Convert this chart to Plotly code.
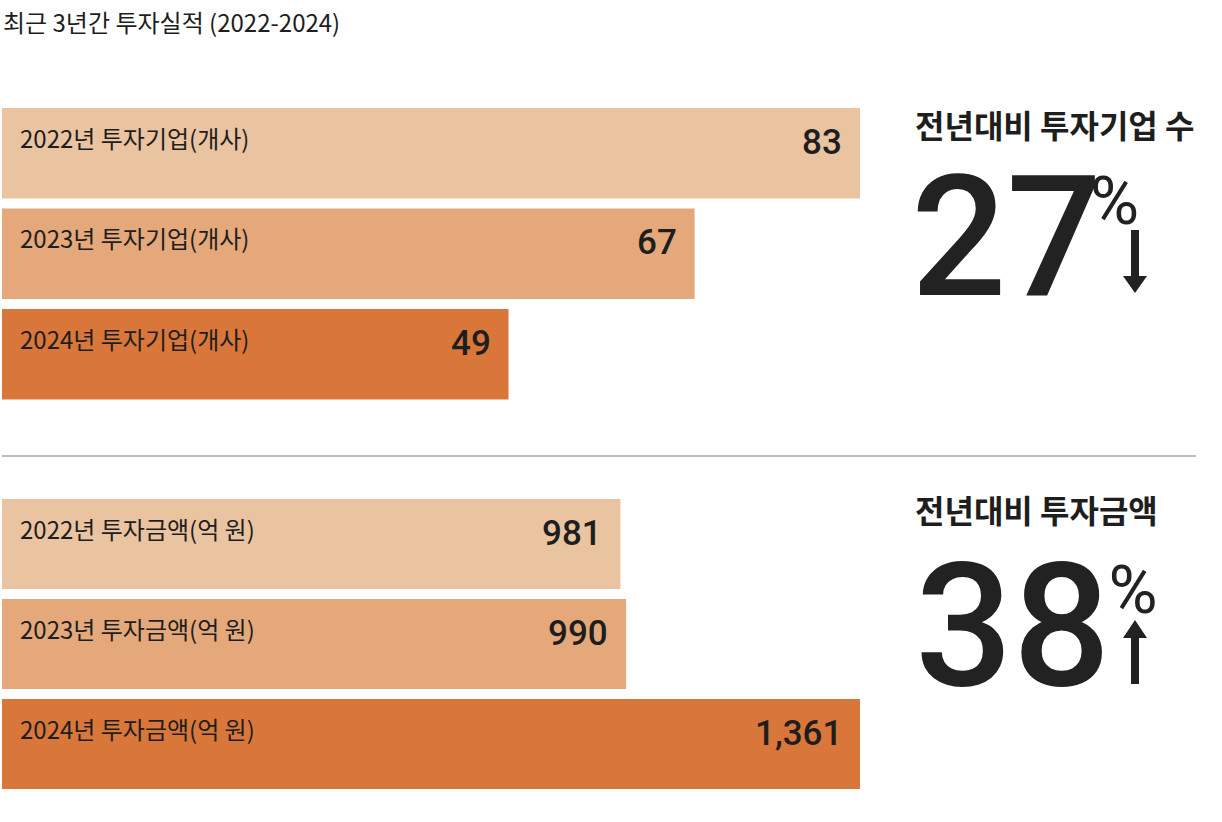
import plotly.graph_objects as go

# ---------------- data ----------------
years = ["2022년", "2023년", "2024년"]
company_counts = [83, 67, 49]
invest_amounts = [981, 990, 1361]
company_labels = ["2022년 투자기업(개사)", "2023년 투자기업(개사)", "2024년 투자기업(개사)"]
amount_labels = ["2022년 투자금액(억 원)", "2023년 투자금액(억 원)", "2024년 투자금액(억 원)"]
title_text = "최근 3년간 투자실적 (2022-2024)"
kpi_titles = ["전년대비 투자기업 수", "전년대비 투자금액"]
kpi_values = ["27", "38"]
kpi_direction = ["down", "up"]

# ---------------- style ----------------
bar_colors = ["#EAC3A0", "#E4A87A", "#D9763A"]
TEXT = "#1E1E1E"
KR = "Noto Sans CJK KR"
NUM = "Roboto"
W, H = 1222, 822


def px(x):
    return x / W


def py(y):
    return 1 - y / H


fig = go.Figure()

fig.add_trace(go.Bar(
    x=company_counts, y=years, orientation="h",
    marker=dict(color=bar_colors, line=dict(width=0)),
    xaxis="x", yaxis="y", hoverinfo="skip", showlegend=False,
))
fig.add_trace(go.Bar(
    x=invest_amounts, y=years, orientation="h",
    marker=dict(color=bar_colors, line=dict(width=0)),
    xaxis="x2", yaxis="y2", hoverinfo="skip", showlegend=False,
))

annotations = []
# title
annotations.append(dict(
    text=title_text, xref="paper", yref="paper", x=px(1), y=py(21),
    xanchor="left", yanchor="middle", showarrow=False,
    font=dict(family=KR, size=24, color=TEXT),
))

for xa, ya, vals, labels in (("x", "y", company_counts, company_labels),
                             ("x2", "y2", invest_amounts, amount_labels)):
    for yr, v, lab in zip(years, vals, labels):
        annotations.append(dict(
            text=lab, xref=xa, yref=ya, x=0, y=yr, xanchor="left", yanchor="middle",
            xshift=16, yshift=16, showarrow=False,
            font=dict(family=KR, size=24, color=TEXT),
        ))
        annotations.append(dict(
            text=f"{v:,}", xref=xa, yref=ya, x=v, y=yr, xanchor="right", yanchor="middle",
            xshift=-16, yshift=11, showarrow=False,
            font=dict(family=NUM, size=35, color=TEXT, weight=500),
        ))

# KPI blocks
kpi_top = [124, 509]
num_center = [238, 626]
num_x = [909, 913]
num_size = [168, 172]
last_spacing = [-12, -2]
shapes = []
for i in range(2):
    annotations.append(dict(
        text=kpi_titles[i], xref="paper", yref="paper", x=px(913), y=py(kpi_top[i]),
        xanchor="left", yanchor="middle", showarrow=False,
        font=dict(family=KR, size=32, color=TEXT, weight=700),
    ))
    v = kpi_values[i]
    big = (f"{v[:-1]}<span style='letter-spacing:{last_spacing[i]}px'>{v[-1]}</span>"
           f"<sup><span style='font-size:67px;font-weight:400'>%</span></sup>")
    annotations.append(dict(
        text=big, xref="paper", yref="paper", x=px(num_x[i]), y=py(num_center[i]),
        xanchor="left", yanchor="middle", showarrow=False,
        font=dict(family=NUM, size=num_size[i], color="#222222", weight=500),
    ))

arrow_x = [1135, 1135]
for i, d in enumerate(kpi_direction):
    cx = arrow_x[i]
    if d == "down":
        stem_top, stem_bot = 230, 278
        shapes.append(dict(type="rect", xref="paper", yref="paper",
                           x0=px(cx - 4), x1=px(cx + 4), y0=py(stem_bot), y1=py(stem_top),
                           fillcolor="#222222", line=dict(width=0)))
        path = f"M {px(cx-12)},{py(276)} L {px(cx+12)},{py(276)} L {px(cx)},{py(293)} Z"
    else:
        stem_top, stem_bot = 634, 684
        shapes.append(dict(type="rect", xref="paper", yref="paper",
                           x0=px(cx - 4), x1=px(cx + 4), y0=py(stem_bot), y1=py(stem_top),
                           fillcolor="#222222", line=dict(width=0)))
        path = f"M {px(cx-12)},{py(638)} L {px(cx+12)},{py(638)} L {px(cx)},{py(620)} Z"
    shapes.append(dict(type="path", xref="paper", yref="paper", path=path,
                       fillcolor="#222222", line=dict(width=0)))

# divider
shapes.append(dict(type="line", xref="paper", yref="paper",
                   x0=px(2), x1=px(1196), y0=py(456), y1=py(456),
                   line=dict(color="#BDBDBD", width=2)))

axis_common = dict(showgrid=False, zeroline=False, showticklabels=False,
                   showline=False, ticks="", fixedrange=True)

fig.update_layout(
    width=W, height=H,
    margin=dict(l=0, r=0, t=0, b=0),
    paper_bgcolor="white", plot_bgcolor="white",
    bargap=0.1,
    xaxis=dict(domain=[px(2), px(860)], range=[0, max(company_counts)], anchor="y", **axis_common),
    yaxis=dict(domain=[py(404.5), py(103)], type="category", autorange="reversed", anchor="x", **axis_common),
    xaxis2=dict(domain=[px(2), px(860)], range=[0, max(invest_amounts)], anchor="y2", **axis_common),
    yaxis2=dict(domain=[py(794), py(494)], type="category", autorange="reversed", anchor="x2", **axis_common),
    annotations=annotations,
    shapes=shapes,
    font=dict(family=KR),
)

fig.write_html("out.html", config=dict(displayModeBar=False))
